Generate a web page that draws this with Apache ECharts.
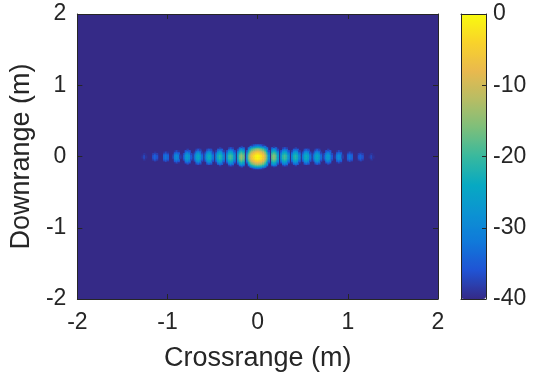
<!DOCTYPE html>
<html>
<head>
<meta charset="utf-8">
<script src="https://cdn.jsdelivr.net/npm/echarts@6/dist/echarts.min.js"></script>
<style>
  html, body { margin: 0; padding: 0; background: #fff; }
  #chart { width: 560px; height: 380px; }
</style>
</head>
<body>
<div id="chart"></div>
<script>
// crossrange profile (dB) along y = 0, cells of 0.02 m from -1.32 m to 1.32 m
const crossProfile = [
  -40, -40, -39, -37, -39, -40, -40, -40, -36, -34, -36, -40, -40, -40, -34, -32, -34, -40,
  -40, -38, -31, -29, -31, -38, -40, -35, -28, -26, -28, -35, -40, -33, -26, -24, -26, -33,
  -40, -32, -25, -23, -25, -32, -40, -30, -23, -21, -23, -30, -40, -28, -21, -19, -21, -28,
  -40, -25, -17, -14, -17, -40, -28, -16, -9, -5, -2.5, -1,
  0,
  -1, -2.5, -5, -9, -16, -28, -40, -17, -15, -17, -25, -40, -28, -21, -19, -21, -28, -40,
  -30, -23, -21, -23, -30, -40, -32, -25, -23, -25, -32, -40, -33, -26, -24, -26, -33, -40,
  -35, -28, -26, -28, -35, -40, -38, -31, -29, -31, -38, -40, -40, -34, -32, -34, -40, -40,
  -40, -36, -34, -36, -40, -40, -40, -39, -37, -39, -40, -40
]
const crossStart = -1.32

// downrange profile (dB), cells of 0.02 m from -0.20 m to 0.20 m
const downProfile = [
  -45, -40, -33, -24, -17, -12, -8, -5, -2, -0.5, 0,
  -0.5, -2, -5, -8, -12, -17, -24, -33, -40, -45
]
const downStart = -0.2
const cell = 0.02

const axisTicks = [-2, -1, 0, 1, 2]
const colorTicks = [-40, -30, -20, -10, 0]

const parula = ['#352a87', '#2053d4', '#1079da', '#0c93d2', '#07a9c2', '#38b99e',
  '#7cbf7b', '#b7bd64', '#e9b94e', '#f9d32a', '#f9fb0e']

const crossrange = crossProfile.map((_, i) => +(crossStart + i * cell).toFixed(2))
const downrange = downProfile.map((_, j) => +(downStart + j * cell).toFixed(2))

const cells = []
crossProfile.forEach((cx, i) => {
  downProfile.forEach((dy, j) => {
    const v = cx + dy
    if (v > -40) cells.push([crossrange[i], downrange[j], v])
  })
})

const ink = '#262626'
const font = 'Liberation Sans'

function frameAxis(gridIndex, position, min, max, extra) {
  return Object.assign({
    type: 'value',
    gridIndex: gridIndex,
    position: position,
    min: min,
    max: max,
    interval: 1,
    axisLine: { show: true, onZero: false, lineStyle: { color: ink, width: 1 } },
    axisTick: { show: true, inside: true, length: 5, lineStyle: { color: ink } },
    axisLabel: { show: false },
    splitLine: { show: false }
  }, extra || {})
}

const chart = echarts.init(document.getElementById('chart'), null, { renderer: 'canvas' })

chart.setOption({
  animation: false,
  textStyle: { fontFamily: font, color: ink },
  grid: [
    { left: 74, top: 14, width: 364, height: 285, show: true, backgroundColor: '#352a87', borderWidth: 0 },
    { left: 461, top: 14, width: 25, height: 285, show: false }
  ],
  xAxis: [
    frameAxis(0, 'bottom', axisTicks[0], axisTicks[axisTicks.length - 1], {
      axisLabel: { show: true, fontSize: 23, color: ink, margin: 12, fontFamily: font },
      name: 'Crossrange (m)',
      nameLocation: 'middle',
      nameGap: 46,
      nameTextStyle: { fontSize: 27, color: ink, fontFamily: font }
    }),
    frameAxis(0, 'top', axisTicks[0], axisTicks[axisTicks.length - 1]),
    frameAxis(1, 'bottom', 0, 1, { axisTick: { show: false }, z: 10 }),
    frameAxis(1, 'top', 0, 1, { axisTick: { show: false }, z: 10 })
  ],
  yAxis: [
    frameAxis(0, 'left', axisTicks[0], axisTicks[axisTicks.length - 1], {
      axisLabel: { show: true, fontSize: 23, color: ink, margin: 11, fontFamily: font },
      name: 'Downrange (m)',
      nameLocation: 'middle',
      nameGap: 39,
      nameTextStyle: { fontSize: 27, color: ink, fontFamily: font }
    }),
    frameAxis(0, 'right', axisTicks[0], axisTicks[axisTicks.length - 1]),
    frameAxis(1, 'right', colorTicks[0], colorTicks[colorTicks.length - 1], {
      interval: 10,
      z: 10,
      axisTick: { show: true, inside: true, length: 4, lineStyle: { color: ink } },
      axisLabel: { show: true, fontSize: 23, color: ink, margin: 7, fontFamily: font }
    }),
    frameAxis(1, 'left', colorTicks[0], colorTicks[colorTicks.length - 1], {
      interval: 10, z: 10, axisTick: { show: false }
    })
  ],
  visualMap: {
    type: 'continuous',
    min: colorTicks[0],
    max: colorTicks[colorTicks.length - 1],
    dimension: 2,
    seriesIndex: 0,
    calculable: false,
    left: 461,
    top: 14,
    padding: 0,
    itemWidth: 25,
    itemHeight: 285,
    z: 2,
    inRange: { color: parula }
  },
  series: [
    {
      type: 'custom',
      xAxisIndex: 0,
      yAxisIndex: 0,
      silent: true,
      clip: true,
      data: cells,
      encode: { x: 0, y: 1 },
      renderItem: function (params, api) {
        const x = api.value(0)
        const y = api.value(1)
        const p = api.coord([x - cell / 2, y + cell / 2])
        const s = api.size([cell, cell])
        return {
          type: 'rect',
          shape: { x: p[0], y: p[1], width: s[0] + 0.6, height: s[1] + 0.6 },
          style: { fill: api.visual('color') }
        }
      }
    }
  ]
})
</script>
</body>
</html>
